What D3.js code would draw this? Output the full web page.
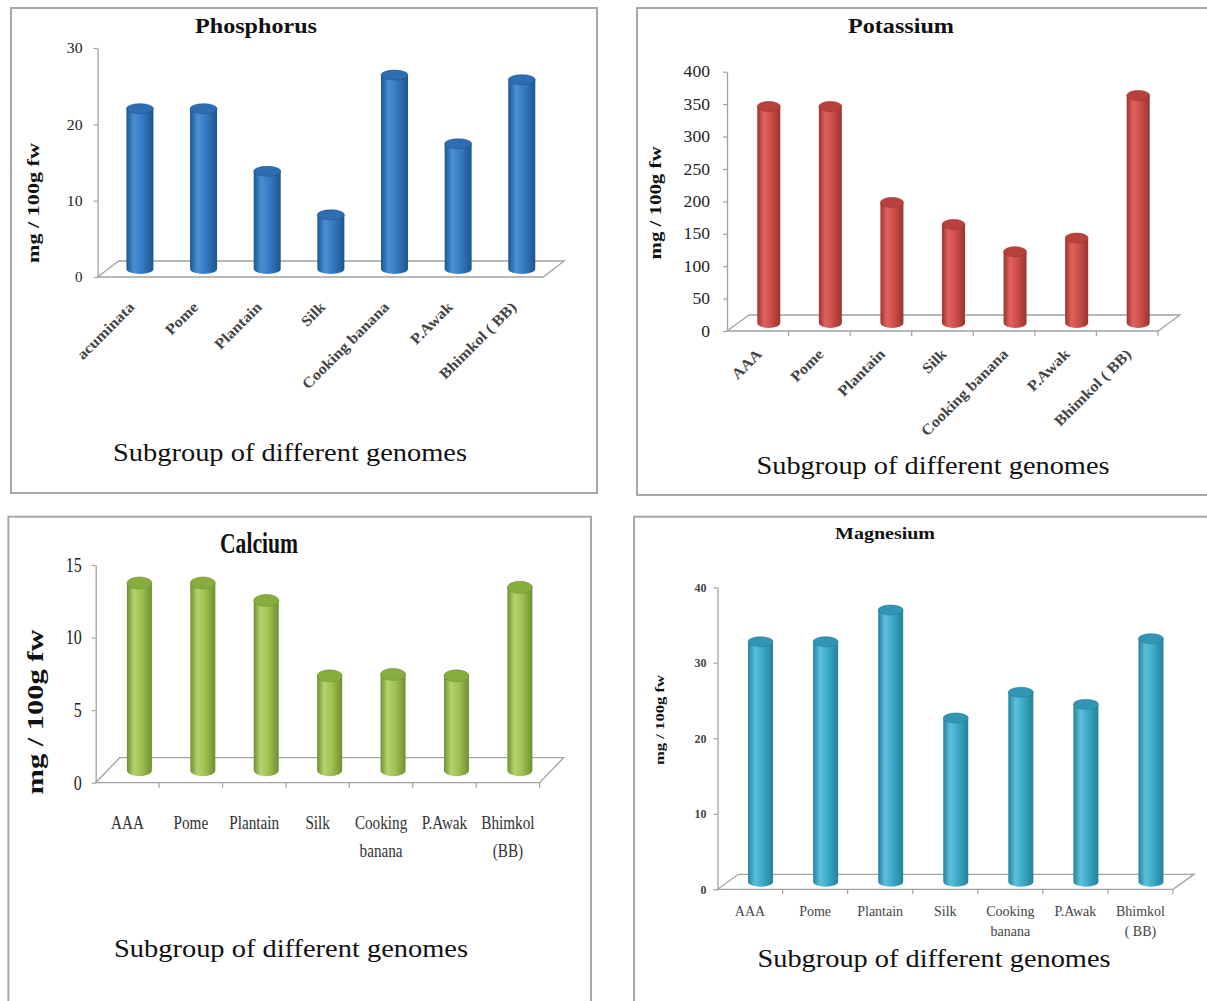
<!DOCTYPE html>
<html>
<head>
<meta charset="utf-8">
<script src="https://cdn.jsdelivr.net/npm/d3@7"></script>
<style>
  body { margin: 0; background: #fff; }
  svg { display: block; }
</style>
</head>
<body>
<svg id="chart" width="1207" height="1001"></svg>
<script>
// ---- data (mg / 100 g fresh weight) ----
const phosphorusCategories = ["acuminata", "Pome", "Plantain", "Silk", "Cooking banana", "P.Awak", "Bhimkol ( BB)"];
const phosphorusValues = [21.0, 21.0, 12.8, 7.1, 25.4, 16.4, 24.8];
const phosphorusTicks = [0, 10, 20, 30];

const potassiumCategories = ["AAA", "Pome", "Plantain", "Silk", "Cooking banana", "P.Awak", "Bhimkol ( BB)"];
const potassiumValues = [334, 334, 186, 152, 110, 131, 351];
const potassiumTicks = [0, 50, 100, 150, 200, 250, 300, 350, 400];

const calciumCategories = ["AAA", "Pome", "Plantain", "Silk", "Cooking\nbanana", "P.Awak", "Bhimkol\n(BB)"];
const calciumValues = [12.9, 12.9, 11.7, 6.5, 6.6, 6.5, 12.6];
const calciumTicks = [0, 5, 10, 15];

const magnesiumCategories = ["AAA", "Pome", "Plantain", "Silk", "Cooking\nbanana", "P.Awak", "Bhimkol\n( BB)"];
const magnesiumValues = [31.8, 31.8, 36.0, 21.7, 25.1, 23.5, 32.2];
const magnesiumTicks = [0, 10, 20, 30, 40];

const subtitle = "Subgroup of different genomes";
const yTitle = "mg / 100g fw";

// ---- drawing ----
const svg = d3.select("#chart");
const defs = svg.append("defs");
const SERIF = "'Liberation Serif', 'Times New Roman', serif";

// horizontally stretch/condense a text node: by factor, or to a fixed length
function fit(sel, opt) {
  sel.each(function () {
    const w = this.getComputedTextLength();
    const len = opt.len != null ? opt.len : w * opt.sx;
    if (Math.abs(len - w) > 0.5) {
      this.setAttribute("textLength", len);
      this.setAttribute("lengthAdjust", "spacingAndGlyphs");
    }
  });
}

function cylinderGradient(id, c) {
  const lg = defs.append("linearGradient").attr("id", id)
    .attr("x1", 0).attr("x2", 1).attr("y1", 0).attr("y2", 0);
  lg.append("stop").attr("offset", "0%").attr("stop-color", c.dark);
  lg.append("stop").attr("offset", "28%").attr("stop-color", c.light);
  lg.append("stop").attr("offset", "60%").attr("stop-color", c.base);
  lg.append("stop").attr("offset", "100%").attr("stop-color", c.dark);
}

function drawPanel(cfg) {
  const g = svg.append("g");
  const [bx, by, bw, bh] = cfg.box;

  g.append("rect")
    .attr("x", bx).attr("y", by).attr("width", bw).attr("height", bh)
    .attr("fill", "#fff").attr("stroke", "#a8a8a8").attr("stroke-width", 2);

  // title
  g.append("text")
    .attr("x", cfg.title.x).attr("y", cfg.title.y)
    .attr("text-anchor", "middle")
    .style("font-family", SERIF).style("font-weight", "bold")
    .style("font-size", cfg.title.size + "px").attr("fill", "#111")
    .text(cfg.title.text)
    .call(fit, { len: cfg.title.len });

  const x = d3.scaleBand().domain(cfg.categories).range([cfg.x0, cfg.x0 + cfg.w]);
  const y = d3.scaleLinear().domain([0, cfg.max]).range([cfg.y0, cfg.yTop]);
  const [dx, dy] = cfg.depth;
  const x1 = cfg.x0 + cfg.w;

  // floor of the 3-D plot
  g.append("path")
    .attr("d", `M${cfg.x0},${y(0)}L${x1},${y(0)}L${x1 + dx},${y(0) + dy}L${cfg.x0 + dx},${y(0) + dy}Z`)
    .attr("fill", "none").attr("stroke", "#a3a3a3").attr("stroke-width", 1.3);

  // category tick marks under the front edge
  if (cfg.catTicks) {
    const bounds = cfg.categories.map(c => x(c) + x.bandwidth());
    g.selectAll(null).data(bounds).join("line")
      .attr("x1", d => d).attr("x2", d => d)
      .attr("y1", y(0)).attr("y2", y(0) + 5)
      .attr("stroke", "#a3a3a3").attr("stroke-width", 1.2);
  }

  // value axis
  const axis = d3.axisLeft(y).tickValues(cfg.ticks).tickSize(4).tickSizeOuter(0).tickPadding(cfg.tickPad);
  const ag = g.append("g").attr("transform", `translate(${cfg.x0},0)`).call(axis)
    .attr("font-family", SERIF);
  ag.select(".domain").attr("stroke", "#a3a3a3").attr("stroke-width", 1.3);
  ag.selectAll(".tick line").attr("stroke", "#a3a3a3").attr("stroke-width", 1.2);
  ag.selectAll(".tick text")
    .attr("fill", cfg.tickFill)
    .style("font-family", SERIF).style("font-size", cfg.tickSize + "px")
    .style("font-weight", cfg.tickWeight || "normal")
    .call(fit, { sx: cfg.tickSx });

  // value-axis title
  g.append("text")
    .attr("transform", `translate(${cfg.yTitle.x},${cfg.yTitle.y}) rotate(-90)`)
    .attr("text-anchor", "middle").attr("dy", "0.35em")
    .style("font-family", SERIF).style("font-weight", "bold")
    .style("font-size", cfg.yTitle.size + "px").attr("fill", "#111")
    .text(yTitle)
    .call(fit, { len: cfg.yTitle.len });

  // cylinders
  const gid = "grad-" + cfg.id;
  cylinderGradient(gid, cfg.color);
  const r = cfg.barR, ry = cfg.ry;
  const rows = cfg.categories.map((c, i) => ({ c, v: cfg.values[i] }));
  const bars = g.selectAll(".bar").data(rows).join("g").attr("class", "bar");
  const cx = d => x(d.c) + x.bandwidth() / 2 + dx / 2;
  bars.append("path")
    .attr("d", d => {
      const xc = cx(d), yb = y(0) + dy / 2, yt = y(d.v) + dy / 2;
      return `M${xc - r},${yt}L${xc - r},${yb}A${r},${ry} 0 0 0 ${xc + r},${yb}L${xc + r},${yt}Z`;
    })
    .attr("fill", `url(#${gid})`);
  bars.append("ellipse")
    .attr("cx", cx).attr("cy", d => y(d.v) + dy / 2)
    .attr("rx", r).attr("ry", ry)
    .attr("fill", cfg.color.top).attr("stroke", cfg.color.dark).attr("stroke-width", 0.6);

  // category labels
  const lab = cfg.labels;
  if (lab.rotated) {
    g.selectAll(null).data(cfg.categories).join("text")
      .attr("transform", c => `translate(${x(c) + x.bandwidth() / 2 + lab.dx},${y(0) + lab.dy}) rotate(-45)`)
      .attr("text-anchor", "end")
      .style("font-family", SERIF).style("font-weight", "bold")
      .style("font-size", lab.size + "px").attr("fill", lab.fill)
      .text(c => c)
      .call(fit, { sx: lab.sx });
  } else {
    cfg.categories.forEach(c => {
      c.split("\n").forEach((line, k) => {
        g.append("text")
          .attr("x", x(c) + x.bandwidth() / 2)
          .attr("y", y(0) + lab.dy + k * lab.lineGap)
          .attr("text-anchor", "middle")
          .style("font-family", SERIF).style("font-size", lab.size + "px")
          .attr("fill", lab.fill)
          .text(line)
          .call(fit, { sx: lab.sx });
      });
    });
  }

  // axis caption under the plot
  g.append("text")
    .attr("x", cfg.sub.x).attr("y", cfg.sub.y)
    .attr("text-anchor", "middle")
    .style("font-family", SERIF).style("font-size", "26px").attr("fill", "#111")
    .text(subtitle)
    .call(fit, { len: cfg.sub.len });
}

drawPanel({
  id: "p", box: [11, 8, 586, 485],
  title: { text: "Phosphorus", x: 256, y: 33, size: 21, len: 122 },
  categories: phosphorusCategories, values: phosphorusValues, ticks: phosphorusTicks, max: 30,
  x0: 97.6, w: 445.5, y0: 277, yTop: 48, depth: [21, -16],
  barR: 13.5, ry: 5, catTicks: false,
  tickSize: 15, tickSx: 1.05, tickPad: 11, tickFill: "#222",
  yTitle: { x: 33, y: 203, size: 17, len: 120 },
  labels: { rotated: true, dx: 6, dy: 31, size: 15, sx: 1.1, fill: "#444" },
  sub: { x: 290, y: 461, len: 354 },
  color: { dark: "#1c568f", light: "#4a8fd4", base: "#3579c0", top: "#2d6db0" }
});

drawPanel({
  id: "k", box: [637, 8, 580, 487],
  title: { text: "Potassium", x: 901, y: 33, size: 21, len: 106 },
  categories: potassiumCategories, values: potassiumValues, ticks: potassiumTicks, max: 400,
  x0: 727, w: 431, y0: 331, yTop: 71.7, depth: [22, -16],
  barR: 11.5, ry: 5, catTicks: true,
  tickSize: 16, tickSx: 1.1, tickPad: 13, tickFill: "#222",
  yTitle: { x: 655, y: 203, size: 17, len: 113 },
  labels: { rotated: true, dx: 5, dy: 24, size: 15, sx: 1.1, fill: "#444" },
  sub: { x: 933, y: 474, len: 353 },
  color: { dark: "#9a3431", light: "#e0625e", base: "#cc4d49", top: "#b8413e" }
});

drawPanel({
  id: "ca", box: [8.4, 516.7, 582.6, 495],
  title: { text: "Calcium", x: 259, y: 553, size: 30, len: 78 },
  categories: calciumCategories, values: calciumValues, ticks: calciumTicks, max: 15,
  x0: 95.7, w: 443.9, y0: 782.7, yTop: 565, depth: [24, -25],
  barR: 12.5, ry: 6, catTicks: true,
  tickSize: 20, tickSx: 0.8, tickPad: 10, tickFill: "#222",
  yTitle: { x: 35, y: 712, size: 24, len: 165 },
  labels: { rotated: false, dy: 46, lineGap: 28, size: 19, sx: 0.8, fill: "#333" },
  sub: { x: 291, y: 957, len: 354 },
  color: { dark: "#6f8f33", light: "#b3d36c", base: "#9cc150", top: "#88ad3f" }
});

drawPanel({
  id: "mg", box: [634, 516.7, 580, 495],
  title: { text: "Magnesium", x: 885, y: 539, size: 17, len: 100 },
  categories: magnesiumCategories, values: magnesiumValues, ticks: magnesiumTicks, max: 40,
  x0: 717.5, w: 455.5, y0: 889.3, yTop: 587.3, depth: [21, -15],
  barR: 12.5, ry: 5, catTicks: true,
  tickSize: 12, tickSx: 1.0, tickPad: 7, tickFill: "#444", tickWeight: "bold",
  yTitle: { x: 659, y: 720, size: 13, len: 90 },
  labels: { rotated: false, dy: 27, lineGap: 20, size: 14, sx: 1.0, fill: "#444" },
  sub: { x: 934, y: 967, len: 353 },
  color: { dark: "#25819b", light: "#5cc0dc", base: "#3ba8c7", top: "#3195b3" }
});
</script>
</body>
</html>
